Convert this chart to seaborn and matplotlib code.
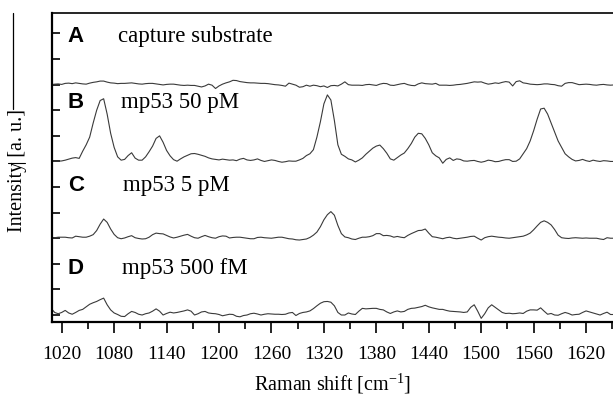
import numpy as np
import pandas as pd
import matplotlib.pyplot as plt
import seaborn as sns
from matplotlib.lines import Line2D
from matplotlib.ticker import NullFormatter

# Raman shift grid (cm-1), one point every 4 cm-1
shift = np.arange(1008, 1653, 4)

# spectra, baseline ~0, units = one y tick
spec_A = [
    0.00, 0.02, 0.03, 0.01, 0.05, 0.06, 0.04, 0.07, 0.05, 0.03,
    0.02, 0.06, 0.09, 0.11, 0.14, 0.14, 0.10, 0.07, 0.06, 0.04,
    0.05, 0.05, 0.06, 0.07, 0.05, 0.03, 0.02, 0.04, 0.05, 0.05,
    0.03, 0.01, -0.01, 0.01, 0.02, 0.02, 0.00, -0.02, -0.03, -0.02,
    -0.03, -0.03, -0.06, -0.09, -0.05, 0.02, -0.02, -0.15, -0.05, 0.02,
    0.07, 0.11, 0.17, 0.16, 0.12, 0.10, 0.08, 0.07, 0.07, 0.06,
    0.05, 0.05, 0.04, 0.02, 0.00, -0.01, -0.03, -0.06, 0.06, 0.02,
    -0.02, -0.10, -0.08, -0.02, -0.06, -0.02, -0.04, -0.08, -0.05, -0.11,
    -0.04, -0.03, -0.05, 0.02, 0.11, 0.00, -0.02, -0.02, -0.02, -0.03,
    0.00, 0.01, -0.01, -0.03, 0.02, 0.05, 0.04, -0.02, -0.03, 0.00,
    0.03, 0.05, 0.00, -0.03, -0.04, 0.03, 0.07, 0.04, 0.03, 0.02,
    0.05, -0.02, -0.02, -0.02, -0.03, -0.02, 0.00, 0.01, 0.03, 0.05,
    0.08, 0.11, 0.10, 0.11, 0.06, 0.02, 0.04, 0.07, 0.05, 0.09,
    0.12, 0.10, -0.05, 0.12, 0.15, 0.07, 0.05, 0.02, 0.01, 0.00,
    0.01, 0.03, 0.03, 0.01, 0.00, -0.04, -0.06, 0.05, 0.08, 0.08,
    0.04, 0.00, 0.01, 0.02, 0.01, -0.01, -0.02, 0.00, 0.01, -0.01,
    -0.02, -0.01,
]

spec_B = [
    0.03, 0.01, 0.01, 0.02, 0.05, 0.09, 0.13, 0.15, 0.12, 0.40,
    0.65, 0.95, 1.50, 2.00, 2.38, 2.45, 1.85, 1.10, 0.55, 0.18,
    0.05, 0.08, 0.23, 0.34, 0.13, 0.05, 0.05, 0.18, 0.38, 0.60,
    0.90, 1.00, 0.75, 0.43, 0.22, 0.07, 0.01, 0.10, 0.18, 0.24,
    0.30, 0.31, 0.28, 0.24, 0.20, 0.14, 0.10, 0.08, 0.06, 0.09,
    0.07, 0.05, 0.06, 0.03, 0.09, 0.12, 0.06, 0.04, 0.06, 0.10,
    0.04, 0.00, 0.03, 0.06, 0.04, 0.00, -0.03, -0.01, 0.02, 0.01,
    0.01, 0.06, 0.12, 0.23, 0.30, 0.46, 0.95, 1.55, 2.25, 2.60,
    2.40, 1.60, 0.65, 0.28, 0.20, 0.10, 0.06, -0.02, 0.05, 0.14,
    0.28, 0.40, 0.52, 0.60, 0.64, 0.50, 0.32, 0.10, 0.05, 0.15,
    0.25, 0.33, 0.50, 0.70, 0.95, 1.10, 1.08, 0.90, 0.65, 0.34,
    0.22, 0.14, -0.07, 0.08, 0.14, 0.04, 0.10, 0.08, 0.02, 0.01,
    0.03, 0.04, 0.00, -0.03, 0.00, 0.05, 0.03, -0.01, 0.00, 0.04,
    0.07, 0.07, 0.00, 0.01, 0.10, 0.30, 0.50, 0.80, 1.20, 1.65,
    2.05, 2.08, 1.85, 1.50, 1.15, 0.80, 0.55, 0.30, 0.18, 0.08,
    0.02, 0.04, 0.08, 0.03, 0.00, 0.05, 0.02, 0.00, 0.03, 0.02,
    0.00, 0.00,
]

spec_C = [
    0.00, 0.02, 0.04, 0.04, 0.04, 0.02, 0.01, 0.08, 0.06, 0.04,
    0.04, 0.08, 0.14, 0.30, 0.55, 0.75, 0.62, 0.36, 0.15, 0.02,
    -0.02, 0.01, 0.06, 0.10, 0.02, -0.01, -0.03, -0.02, 0.04, 0.14,
    0.20, 0.18, 0.17, 0.11, 0.05, 0.01, 0.04, 0.08, 0.12, 0.15,
    0.08, 0.02, 0.00, 0.06, 0.11, 0.06, 0.02, 0.00, 0.06, 0.09,
    0.08, 0.01, 0.03, 0.04, 0.04, 0.02, 0.00, -0.02, -0.02, 0.03,
    0.04, 0.02, 0.01, 0.00, 0.02, 0.04, 0.04, 0.01, -0.02, -0.03,
    -0.06, -0.07, -0.05, -0.03, 0.03, 0.12, 0.24, 0.45, 0.72, 0.92,
    1.04, 0.90, 0.50, 0.18, 0.05, 0.02, -0.03, -0.05, 0.00, 0.04,
    0.04, 0.06, 0.10, 0.18, 0.18, 0.10, 0.11, 0.09, 0.04, 0.07,
    0.04, 0.02, 0.11, 0.18, 0.24, 0.30, 0.31, 0.36, 0.20, 0.06,
    0.04, 0.01, -0.02, 0.02, 0.04, 0.00, -0.02, 0.00, 0.02, 0.04,
    0.07, 0.08, 0.00, -0.07, 0.02, 0.06, 0.08, 0.06, 0.04, 0.03,
    0.01, 0.00, 0.02, 0.04, 0.06, 0.08, 0.13, 0.20, 0.33, 0.48,
    0.62, 0.68, 0.62, 0.52, 0.34, 0.12, 0.02, 0.00, -0.01, 0.01,
    0.02, 0.01, 0.00, 0.01, 0.00, 0.00, 0.00, -0.03, -0.05, 0.02,
    0.00, 0.00,
]

spec_D = [
    0.25, 0.10, 0.05, 0.10, 0.18, 0.08, 0.03, 0.10, 0.18, 0.22,
    0.32, 0.42, 0.48, 0.53, 0.60, 0.66, 0.40, 0.20, 0.08, 0.02,
    -0.05, -0.06, 0.05, 0.14, 0.10, 0.03, 0.00, 0.05, 0.08, 0.15,
    0.24, 0.15, 0.00, 0.06, 0.11, 0.08, 0.10, 0.13, 0.16, 0.20,
    0.15, 0.00, 0.05, 0.12, 0.14, 0.08, 0.06, 0.05, 0.02, -0.03,
    0.00, 0.03, 0.02, -0.05, -0.07, -0.02, 0.00, 0.05, 0.07, 0.04,
    0.00, 0.03, 0.05, 0.04, 0.03, 0.03, 0.02, 0.03, 0.08, 0.10,
    -0.02, 0.06, 0.10, 0.12, 0.16, 0.25, 0.36, 0.46, 0.52, 0.53,
    0.50, 0.36, 0.10, 0.00, 0.00, 0.08, 0.04, 0.02, 0.15, 0.26,
    0.24, 0.25, 0.26, 0.26, 0.22, 0.20, 0.12, 0.06, 0.12, 0.16,
    0.12, 0.14, 0.22, 0.26, 0.27, 0.30, 0.33, 0.38, 0.32, 0.28,
    0.25, 0.22, 0.22, 0.18, 0.15, 0.14, 0.13, 0.12, 0.10, 0.12,
    0.30, 0.40, 0.15, -0.13, 0.05, 0.28, 0.40, 0.30, 0.20, 0.10,
    0.06, 0.07, 0.05, 0.06, 0.08, 0.06, 0.15, 0.20, 0.20, 0.19,
    0.28, 0.15, 0.03, 0.06, 0.00, -0.01, 0.05, 0.10, 0.06, 0.00,
    0.02, 0.03, 0.10, 0.16, 0.12, 0.08, 0.04, 0.00, 0.06, 0.11,
    0.02, 0.02,
]

panel_letters = ['A', 'B', 'C', 'D']
panel_texts = ['capture substrate', 'mp53 50 pM', 'mp53 5 pM', 'mp53 500 fM']

sns.set_style('ticks')
plt.rcParams['font.family'] = ['Liberation Serif', 'DejaVu Serif']
plt.rcParams['mathtext.fontset'] = 'custom'
plt.rcParams['mathtext.rm'] = 'Liberation Serif'
for key in ['text.color', 'axes.labelcolor', 'xtick.color', 'ytick.color', 'axes.edgecolor']:
    plt.rcParams[key] = 'black'

fig = plt.figure(figsize=(6.13, 3.97), dpi=100)
ax = fig.add_axes([52 / 613, 75 / 397, 561 / 613, 309 / 397])

offsets = [9, 6, 3, 0]
spectra = [spec_A, spec_B, spec_C, spec_D]
for name, vals, off in zip(panel_letters, spectra, offsets):
    df = pd.DataFrame({'shift': shift, 'intensity': np.array(vals) + off})
    sns.lineplot(data=df, x='shift', y='intensity', ax=ax, color='#3a3a3a', lw=0.8)

# panel labels
label_y = [10.9, 8.3, 5.05, 1.8]
text_x = [1084, 1088, 1090, 1089]
for letter, txt, yy, tx in zip(panel_letters, panel_texts, label_y, text_x):
    ax.text(1027, yy, letter, fontsize=16, fontweight='bold',
            family='Liberation Sans', va='center', ha='left')
    ax.text(tx, yy, txt, fontsize=16.5, va='center', ha='left')

ax.set_xlim(1008.9, 1650.8)
ax.set_ylim(-0.273, 11.8)
ax.set_xticks(np.arange(1020, 1621, 60))
ax.set_xticks(np.arange(1050, 1651, 60), minor=True)
ax.set_yticks(np.arange(0, 12, 1))
ax.yaxis.set_major_formatter(NullFormatter())
ax.tick_params(axis='x', which='major', direction='out', length=8, width=1.2,
               labelsize=14, pad=9)
ax.tick_params(axis='x', which='minor', direction='out', length=5, width=1.2)
ax.tick_params(axis='y', which='major', direction='in', length=6, width=1.2)

for side in ['left', 'bottom']:
    ax.spines[side].set_linewidth(1.6)
ax.spines['top'].set_linewidth(1.2)
ax.spines['right'].set_visible(False)

ax.set_xlabel(r'Raman shift [cm$^{\mathregular{-1}}$]', fontsize=14.5, labelpad=6)
ax.set_ylabel('')
fig.text(18 / 613, 1 - 170 / 397, 'Intensity [a. u.]', rotation=90,
         fontsize=14.5, ha='center', va='center')

# thin strokes next to the y label, as in the scan
fig.add_artist(Line2D([12.7 / 613, 12.7 / 613], [1 - 13 / 397, 1 - 109 / 397],
                      color='black', lw=0.9))
fig.add_artist(Line2D([8 / 613, 25 / 613], [1 - 163 / 397, 1 - 163 / 397],
                      color='black', lw=0.8))

fig.savefig('out.png', dpi=100)
